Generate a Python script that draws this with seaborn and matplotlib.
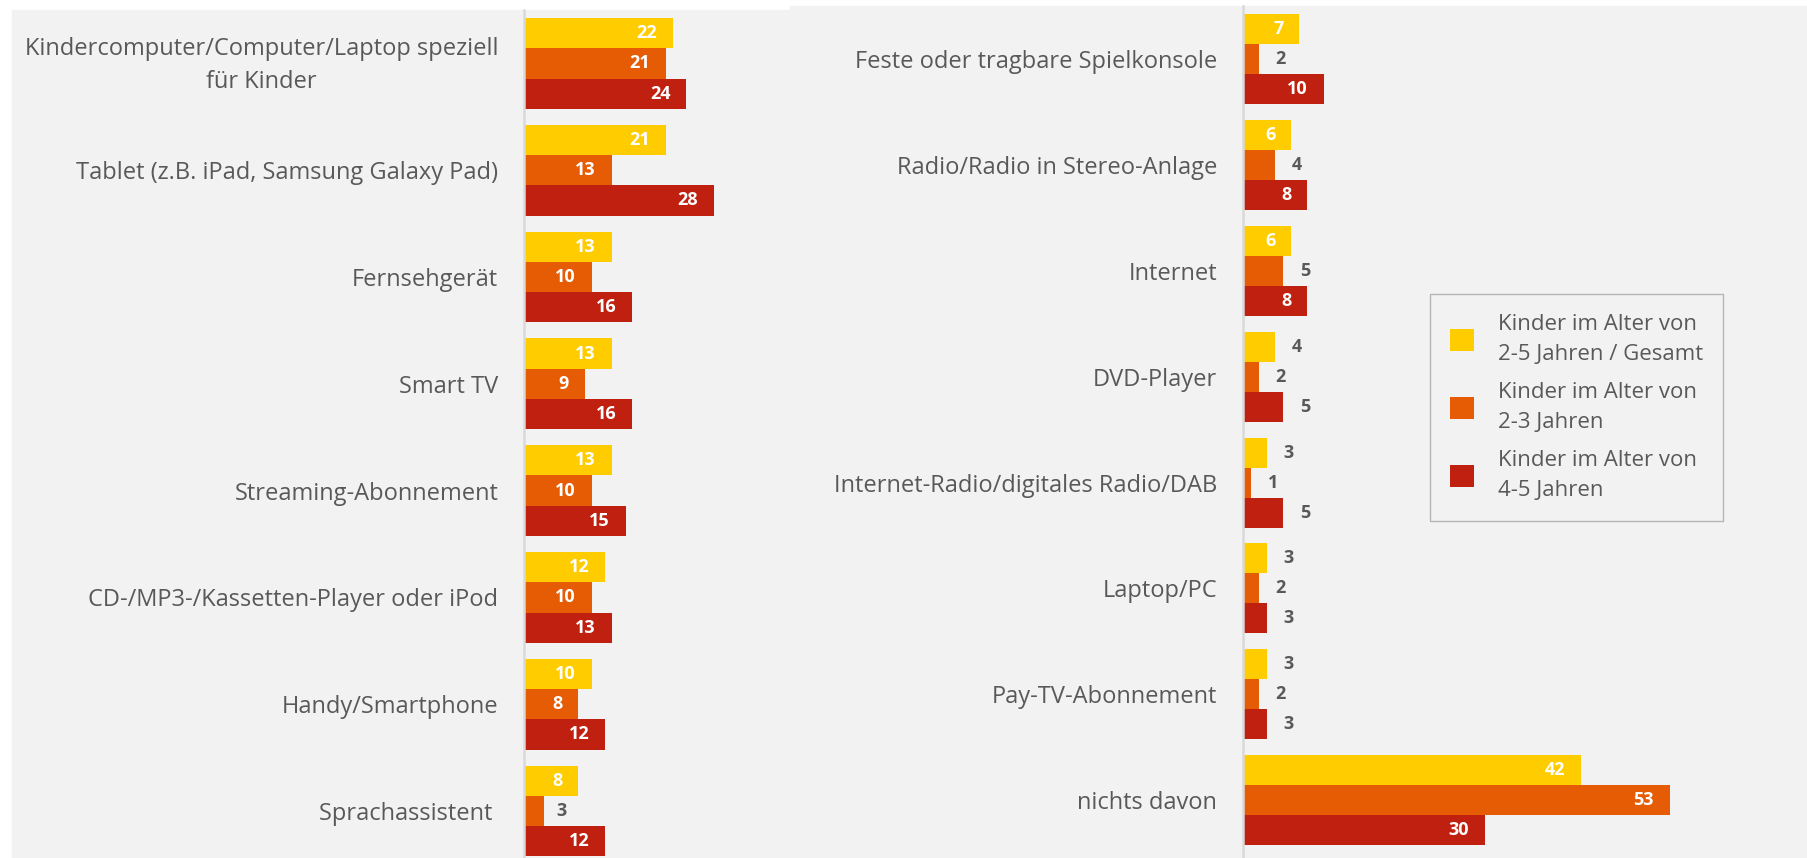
import pandas as pd
import seaborn as sns
import matplotlib.pyplot as plt
from matplotlib.patches import Rectangle, Patch
from matplotlib.transforms import ScaledTranslation

# Daten
gruppen = ["Kinder im Alter von\n2-5 Jahren / Gesamt",
           "Kinder im Alter von\n2-3 Jahren",
           "Kinder im Alter von\n4-5 Jahren"]
farben = ["#FFCC00", "#E65C05", "#C02010"]

kat_links = ["Kindercomputer/Computer/Laptop speziell\nfür Kinder",
             "Tablet (z.B. iPad, Samsung Galaxy Pad)",
             "Fernsehgerät",
             "Smart TV",
             "Streaming-Abonnement",
             "CD-/MP3-/Kassetten-Player oder iPod",
             "Handy/Smartphone",
             "Sprachassistent "]
gesamt_links = [22, 21, 13, 13, 13, 12, 10, 8]
jung_links = [21, 13, 10, 9, 10, 10, 8, 3]
alt_links = [24, 28, 16, 16, 15, 13, 12, 12]

kat_rechts = ["Feste oder tragbare Spielkonsole",
              "Radio/Radio in Stereo-Anlage",
              "Internet",
              "DVD-Player",
              "Internet-Radio/digitales Radio/DAB",
              "Laptop/PC",
              "Pay-TV-Abonnement",
              "nichts davon"]
gesamt_rechts = [7, 6, 6, 4, 3, 3, 3, 42]
jung_rechts = [2, 4, 5, 2, 1, 2, 2, 53]
alt_rechts = [10, 8, 8, 5, 5, 3, 3, 30]

grau = "#F2F2F2"
textfarbe = "#595959"
W, H = 1807, 858

sns.set_theme(style="white")
plt.rcParams['font.family'] = ['Open Sans', 'DejaVu Sans']

fig = plt.figure(figsize=(W / 100, H / 100), dpi=100, facecolor="white")
fig.patches.append(Rectangle((12 / W, 0), (801 - 12) / W, 1 - 10 / H,
                             transform=fig.transFigure, color=grau, zorder=-10))
fig.patches.append(Rectangle((790 / W, 0), (W - 790) / W, 1 - 6 / H,
                             transform=fig.transFigure, color=grau, zorder=-10))


def lang(kat, a, b, c):
    rows = []
    for i, k in enumerate(kat):
        for g, v in zip(gruppen, (a[i], b[i], c[i])):
            rows.append({"Kategorie": k, "Gruppe": g, "Wert": v})
    return pd.DataFrame(rows)


def panel(df, kat, x0, x1, px_unit, top, px_group, pad_aussen):
    ax = fig.add_axes([x0 / W, 0, (x1 - x0) / W, 1 - top / H])
    ax.set_facecolor("none")
    sns.barplot(data=df, y="Kategorie", x="Wert", hue="Gruppe", order=kat,
                hue_order=gruppen, palette=farben, orient="h", width=0.85,
                gap=0, ax=ax, legend=False, linewidth=0, saturation=1)
    ax.set_xlim(0, (x1 - x0) / px_unit)
    hoehe = (H - top) / px_group
    ax.set_ylim(-0.5 + hoehe, -0.5)
    ax.set_xlabel("")
    ax.set_ylabel("")
    ax.set_xticks([])
    for s in ["top", "right", "bottom"]:
        ax.spines[s].set_visible(False)
    ax.spines["left"].set_color("#D9D9D9")
    ax.spines["left"].set_linewidth(1.8)
    ax.tick_params(axis="y", length=0, pad=18.5, labelsize=17, labelcolor=textfarbe)
    for t in ax.get_yticklabels():
        t.set_multialignment("center")
        t.set_linespacing(1.45)
        if "\n" in t.get_text():
            # zweizeiliges Label etwas nach oben wie im Original
            t.set_transform(t.get_transform() +
                            ScaledTranslation(0, 5 / 100, fig.dpi_scale_trans))
    for cont in ax.containers:
        for p in cont:
            w = p.get_width()
            yc = p.get_y() + p.get_height() / 2
            if w >= 6:
                ax.annotate(f"{w:.0f}", (w, yc), xytext=(-11.5, 0),
                            textcoords="offset points", ha="right", va="center",
                            color="white", fontsize=13, fontweight="bold")
            else:
                ax.annotate(f"{w:.0f}", (w, yc), xytext=(pad_aussen, 0),
                            textcoords="offset points", ha="left", va="center",
                            color=textfarbe, fontsize=13, fontweight="bold")
    return ax


ax1 = panel(lang(kat_links, gesamt_links, jung_links, alt_links), kat_links,
            524, 800, 6.77, 10, 106.8, 8.5)
ax2 = panel(lang(kat_rechts, gesamt_rechts, jung_rechts, alt_rechts), kat_rechts,
            1243, W, 8.05, 6, 105.9, 12)

handles = [Patch(facecolor=c, edgecolor="none") for c in farben]
leg = fig.legend(handles, gruppen, loc="upper left",
                 bbox_to_anchor=(1430 / W, 1 - 294 / H), borderaxespad=0,
                 fontsize=16, frameon=True, fancybox=False,
                 handlelength=1.08, handleheight=1.17, handletextpad=1.08,
                 borderpad=0.9, labelspacing=0.78, labelcolor=textfarbe)
leg.get_frame().set_edgecolor("#A6A6A6")
leg.get_frame().set_facecolor("none")
leg.get_frame().set_linewidth(1)
for t in leg.get_texts():
    t.set_linespacing(1.55)

fig.savefig("out.png", dpi=100, facecolor="white")
